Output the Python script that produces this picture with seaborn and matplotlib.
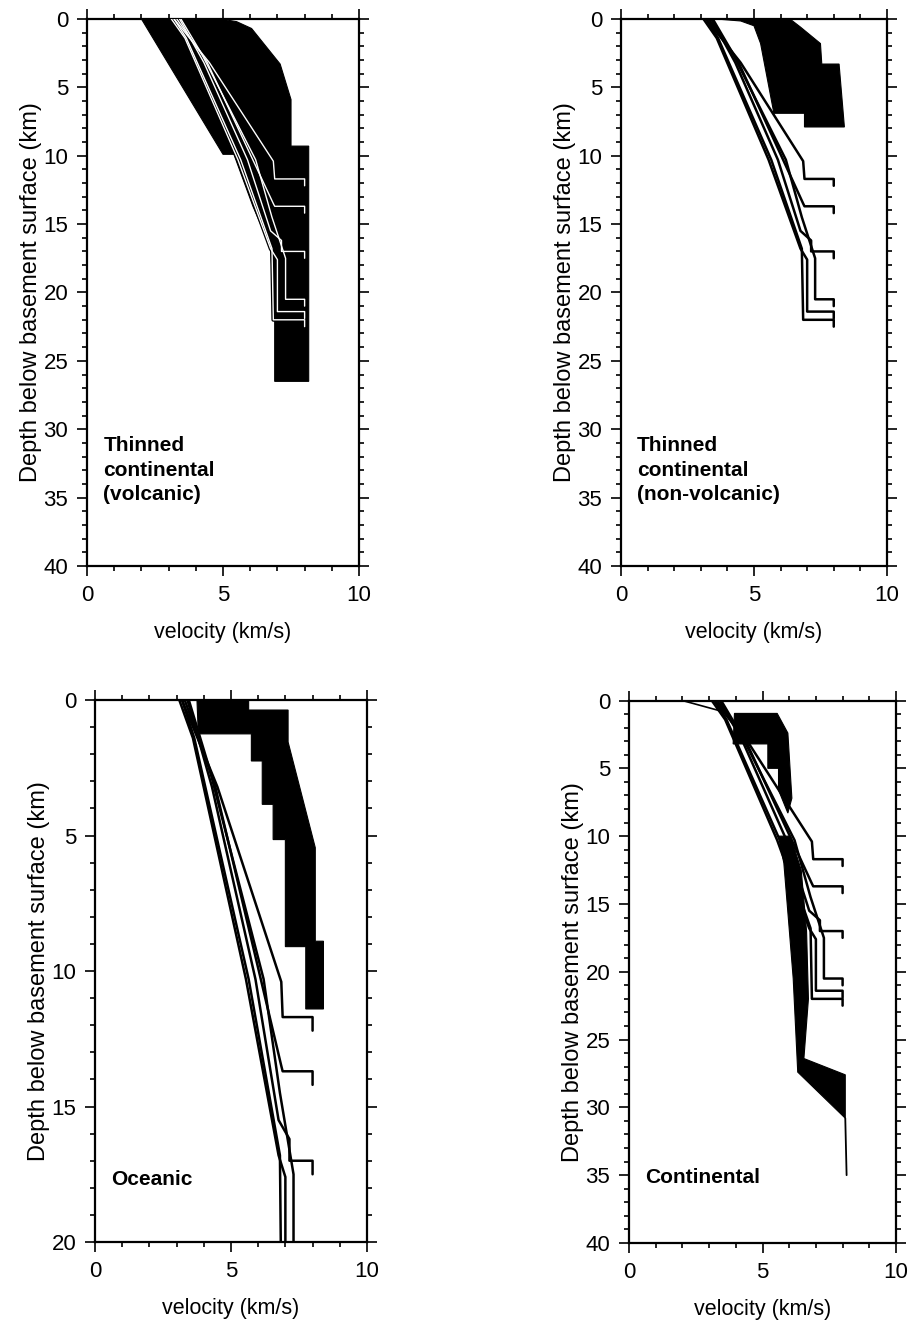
import matplotlib
matplotlib.use("Agg")
import matplotlib.pyplot as plt
import seaborn as sns
import pandas as pd
import numpy as np

# =====================================================
# DATA - velocity (km/s) / depth (km)
# =====================================================
# model profiles, same set drawn on every panel
prof1_v = [3.2, 4.5, 6.85, 6.9, 8.0, 8.0]
prof1_d = [0.0, 3.2, 10.4, 11.7, 11.7, 12.2]
prof2_v = [3.3, 4.4, 6.85, 6.9, 8.0, 8.0]
prof2_d = [0.0, 3.1, 13.5, 13.7, 13.7, 14.2]
prof3_v = [3.4, 4.3, 5.9, 6.75, 7.15, 7.15, 8.0, 8.0]
prof3_d = [0.0, 3.2, 10.3, 15.5, 16.2, 17.0, 17.0, 17.5]
prof4_v = [3.45, 4.2, 6.2, 6.8, 7.3, 7.3, 8.0, 8.0]
prof4_d = [0.0, 2.5, 10.3, 14.5, 17.5, 20.5, 20.5, 21.0]
prof5_v = [3.1, 3.6, 5.55, 6.75, 7.0, 7.0, 8.0, 8.0]
prof5_d = [0.0, 1.4, 10.3, 16.8, 17.6, 21.4, 21.4, 21.9]
prof6_v = [3.2, 3.65, 5.65, 6.8, 6.85, 8.0, 8.0]
prof6_d = [0.0, 1.4, 10.3, 16.8, 22.0, 22.0, 22.5]

# observed envelopes (black areas)
volc_v = [2.0, 4.9, 5.5, 6.05, 7.1, 7.5, 7.5, 8.15, 8.15, 6.9, 6.9, 6.75, 6.1, 5.4, 5.0]
volc_d = [0.0, 0.0, 0.2, 0.7, 3.3, 5.9, 9.3, 9.3, 26.5, 26.5, 22.0, 16.7, 13.7, 9.9, 9.9]

nonvolc_v = [3.55, 6.35, 6.75, 7.5, 7.55, 8.2, 8.4, 6.9, 6.9, 5.75, 5.25, 5.0, 4.5]
nonvolc_d = [0.0, 0.0, 0.6, 1.8, 3.3, 3.3, 7.9, 7.9, 6.9, 6.9, 1.8, 0.5, 0.15]

ocean_v = [3.75, 5.65, 5.65, 7.1, 7.1, 8.1, 8.1, 8.4, 8.4, 7.75, 7.75, 7.0, 7.0, 6.55,
           6.55, 6.15, 6.15, 5.75, 5.75, 3.8]
ocean_d = [0.0, 0.0, 0.37, 0.37, 1.55, 5.45, 8.9, 8.9, 11.4, 11.4, 9.1, 9.1, 5.15, 5.15,
           3.85, 3.85, 2.25, 2.25, 1.25, 1.25]

cont_upper_v = [3.95, 5.55, 5.95, 6.1, 5.95, 5.6, 5.6, 5.2, 5.2, 3.9]
cont_upper_d = [0.95, 0.95, 2.4, 7.2, 8.3, 6.6, 5.0, 5.0, 3.2, 3.2]
cont_lower_v = [5.6, 5.8, 5.97, 6.15, 6.32, 8.1, 8.1, 6.55, 6.72, 6.65, 6.45, 6.05]
cont_lower_d = [10.0, 12.0, 16.1, 20.5, 27.4, 30.8, 27.6, 26.4, 22.0, 17.0, 12.5, 10.0]
cont_tail_v = [8.1, 8.15]
cont_tail_d = [30.8, 35.0]
cont_top_v = [2.0, 3.3, 3.6]
cont_top_d = [0.0, 0.7, 0.9]

panel_labels = ["Thinned\ncontinental\n(volcanic)", "Thinned\ncontinental\n(non-volcanic)",
                "Oceanic", "Continental"]
panel_depth = [40, 40, 20, 40]
label_depth = [33.0, 33.0, 17.7, 35.2]

profiles = pd.concat([
    pd.DataFrame({"v": v, "d": d, "profile": i})
    for i, (v, d) in enumerate([(prof1_v, prof1_d), (prof2_v, prof2_d), (prof3_v, prof3_d),
                                (prof4_v, prof4_d), (prof5_v, prof5_d), (prof6_v, prof6_d)])
], ignore_index=True)

# =====================================================
# FIGURE
# =====================================================
sns.set_style("ticks")
plt.rcParams["font.family"] = ["Liberation Sans", "DejaVu Sans"]
plt.rcParams["text.color"] = "black"
plt.rcParams["axes.labelcolor"] = "black"
plt.rcParams["xtick.direction"] = "out"
plt.rcParams["ytick.direction"] = "out"

fig = plt.figure(figsize=(9.14, 13.23), dpi=100)
fig.patch.set_facecolor("white")

positions = [
    [0.0952, 0.5722, 0.2976, 0.4135],
    [0.6794, 0.5722, 0.2910, 0.4135],
    [0.1039, 0.0612, 0.2976, 0.4097],
    [0.6882, 0.0605, 0.2921, 0.4100],
]
polys = [
    [(volc_v, volc_d)],
    [(nonvolc_v, nonvolc_d)],
    [(ocean_v, ocean_d)],
    [(cont_upper_v, cont_upper_d), (cont_lower_v, cont_lower_d)],
]

for k, pos in enumerate(positions):
    ax = fig.add_axes(pos)
    for pv, pd_ in polys[k]:
        ax.fill(pv, pd_, color="black", lw=0.8, ec="black", zorder=1)

    if k == 0:
        # white lines on the black envelope
        sns.lineplot(data=profiles, x="v", y="d", units="profile", estimator=None,
                     sort=False, color="black", lw=2.8, ax=ax, zorder=2)
        sns.lineplot(data=profiles, x="v", y="d", units="profile", estimator=None,
                     sort=False, color="white", lw=1.0, ax=ax, zorder=3)
    else:
        sns.lineplot(data=profiles, x="v", y="d", units="profile", estimator=None,
                     sort=False, color="black", lw=1.8, ax=ax, zorder=2)
    if k == 3:
        ax.plot(cont_tail_v, cont_tail_d, color="black", lw=1.3)
        ax.plot(cont_top_v, cont_top_d, color="black", lw=1.2)

    ax.set_xlim(0, 10)
    ax.set_ylim(panel_depth[k], 0)
    ax.set_xticks([0, 5, 10])
    ax.set_xticks(np.arange(0, 11, 1), minor=True)
    ax.set_yticks(np.arange(0, panel_depth[k] + 1, 5))
    ax.set_yticks(np.arange(0, panel_depth[k] + 1, 1), minor=True)
    ax.tick_params(which="both", top=True, right=True, labelsize=16, width=1.2,
                   colors="black", pad=6)
    ax.tick_params(which="major", length=7.5)
    ax.tick_params(which="minor", length=3.5)
    for s in ax.spines.values():
        s.set_linewidth(1.6)
        s.set_color("black")
    ax.set_xlabel("velocity (km/s)", fontsize=15.5, labelpad=12)
    ax.set_ylabel("Depth below basement surface (km)", fontsize=17, labelpad=1)
    ax.text(0.6, label_depth[k], panel_labels[k], fontsize=15, fontweight="bold",
            va="center", ha="left", linespacing=1.35)

fig.savefig("out.png", dpi=100, facecolor="white")
